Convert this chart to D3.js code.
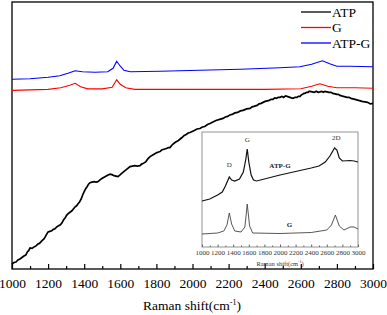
<!DOCTYPE html>
<html>
<head>
<meta charset="utf-8">
<script src="https://cdn.jsdelivr.net/npm/d3@7"></script>
<style>
  body { margin: 0; background: #fff; }
  svg { display: block; font-family: "Liberation Serif", "Times New Roman", serif; }
</style>
</head>
<body>
<div id="grafico"></div>
<script>
// Main spectra (wavenumber, intensity in a.u.)
const seriesNames = ["ATP", "G", "ATP-G"];
const seriesColors = ["#000000", "#ff0000", "#0000ff"];

const atp = [
  [1000, 5], [1011, 6.5], [1022, 7], [1033, 9], [1044, 10], [1055, 11.5], [1066, 13], [1077, 14], [1085, 17],
  [1093, 18.5], [1100, 21], [1111, 20.5], [1122, 22], [1133, 23], [1144, 25], [1152, 25.5], [1160, 27],
  [1168, 28.5], [1177, 30], [1184, 32], [1190, 34], [1200, 37], [1210, 37.5], [1220, 38], [1229, 39.5],
  [1238, 40], [1248, 42], [1258, 43], [1268, 44], [1277, 46], [1286, 49], [1295, 51], [1302, 53.5],
  [1310, 55], [1321, 56.5], [1332, 58], [1341, 60], [1350, 62], [1358, 63], [1366, 65], [1375, 67],
  [1384, 70], [1392, 74], [1400, 77], [1408, 80], [1416, 82], [1424, 84.5], [1432, 86], [1444, 86.5],
  [1455, 87], [1466, 86.5], [1476, 87], [1486, 88.5], [1496, 90], [1505, 91], [1515, 92], [1530, 93.5],
  [1543, 94.5], [1554, 94], [1565, 93], [1576, 92.5], [1587, 92], [1597, 93.5], [1606, 95], [1616, 96.5],
  [1626, 98], [1640, 100], [1654, 102], [1667, 102.5], [1680, 103], [1695, 102.5], [1709, 103], [1718, 104.5],
  [1726, 105], [1734, 106], [1742, 107], [1754, 110], [1765, 112], [1784, 114], [1803, 116], [1812, 116.5],
  [1820, 117], [1829, 118.5], [1837, 119], [1846, 119.5], [1856, 120], [1866, 121], [1875, 121], [1889, 124],
  [1903, 126], [1912, 127], [1922, 128], [1932, 129.5], [1942, 131], [1954, 133], [1965, 134], [1976, 135.5],
  [1986, 136], [1998, 137], [2010, 138], [2025, 139.5], [2041, 140], [2055, 141.5], [2068, 142], [2083, 144],
  [2097, 145], [2113, 146.5], [2130, 148], [2150, 149], [2169, 150], [2182, 151.5], [2195, 152], [2207, 153.5],
  [2219, 154], [2235, 155.5], [2250, 156], [2265, 157.5], [2280, 158], [2300, 159.5], [2319, 160], [2330, 161.5],
  [2340, 162], [2349, 162.5], [2358, 163], [2369, 164.5], [2380, 165], [2391, 166], [2402, 167], [2414, 167.5],
  [2425, 168], [2436, 169], [2446, 169], [2455, 170.5], [2465, 170], [2475, 171], [2485, 171], [2495, 172],
  [2505, 171], [2515, 172.5], [2524, 172], [2532, 171.5], [2540, 171], [2548, 170.5], [2557, 170], [2568, 171],
  [2578, 171], [2587, 172], [2596, 172], [2603, 173.5], [2610, 174], [2617, 175], [2623, 175], [2632, 176],
  [2640, 176], [2646, 177], [2651, 177], [2663, 176.5], [2675, 176], [2686, 177], [2696, 176], [2706, 176.5],
  [2715, 177], [2725, 176], [2734, 177], [2745, 176.5], [2756, 176], [2767, 176], [2778, 175], [2789, 174.5],
  [2800, 174], [2808, 174], [2817, 173], [2826, 172.5], [2836, 172], [2846, 171.5], [2856, 171], [2867, 171],
  [2878, 170], [2889, 169.5], [2900, 169], [2910, 168.5], [2920, 168], [2930, 167.5], [2939, 167], [2955, 166.5],
  [2970, 166], [2985, 164.5], [3000, 165]
];

const grafeno = [
  [1000, 178], [1100, 178.5], [1200, 179], [1270, 180.5], [1320, 183], [1350, 185], [1380, 181.5],
  [1420, 179.5], [1500, 179.5], [1555, 181], [1580, 188.5], [1600, 184], [1630, 180.5], [1680, 179],
  [2000, 179], [2400, 179], [2600, 179.5], [2660, 182], [2705, 184.5], [2750, 182], [2800, 180.5],
  [2900, 180.5], [3000, 180]
];

const atpG = [
  [1000, 189], [1100, 189.5], [1200, 191], [1265, 192.5], [1310, 195], [1350, 197.5], [1390, 196.5],
  [1460, 196], [1530, 196.5], [1560, 200], [1580, 207], [1600, 202], [1620, 198], [1655, 196.5],
  [1820, 197], [2040, 198], [2265, 199], [2485, 200.5], [2595, 201.5], [2660, 204], [2720, 207.5],
  [2760, 204.5], [2800, 202], [2870, 202], [3000, 201.5]
];

// Inset spectra
const insetAtpG = [
  [1000, 46], [1100, 48], [1200, 52], [1260, 55], [1300, 61], [1350, 70], [1380, 67], [1420, 66],
  [1480, 68], [1530, 75], [1560, 87], [1580, 98], [1600, 85], [1630, 72], [1660, 67], [1700, 66],
  [1800, 68], [2000, 72], [2200, 75.5], [2400, 79], [2500, 81], [2580, 85], [2640, 91], [2700, 99],
  [2730, 97], [2760, 89], [2800, 86], [2900, 86.5], [2950, 86], [3000, 85]
];

const insetG = [
  [1000, 13], [1200, 14], [1280, 16], [1320, 22], [1350, 34], [1380, 23], [1420, 16], [1500, 15],
  [1550, 20], [1580, 43], [1610, 21], [1650, 14], [2000, 13.5], [2400, 14.5], [2600, 17], [2660, 22],
  [2710, 32], [2760, 21], [2820, 17], [2900, 20], [2950, 20], [3000, 18]
];

const xTicks = [1000, 1200, 1400, 1600, 1800, 2000, 2200, 2400, 2600, 2800, 3000];
const insetLabels = [["D", 1350, 80], ["G", 1580, 105], ["2D", 2720, 107]];

const largura = 387;
const altura = 315;
const margem = { top: 2, right: 14, bottom: 46, left: 12 };

const svg = d3.select("#grafico").append("svg")
  .attr("width", largura)
  .attr("height", altura);

const escalaX = d3.scaleLinear().domain([1000, 3000]).range([margem.left, largura - margem.right]);
const escalaY = d3.scaleLinear().domain([0, 266]).range([altura - margem.bottom, margem.top]);

// Eixo inferior com ticks para dentro
const eixoX = svg.append("g")
  .attr("transform", `translate(0,${altura - margem.bottom})`)
  .call(d3.axisBottom(escalaX).tickValues(xTicks).tickSize(-5).tickPadding(9).tickFormat(d3.format("d")));
eixoX.select(".domain").remove();
eixoX.selectAll("text").style("font-size", "13.5px").style("font-family", "Liberation Serif");
eixoX.selectAll("line").attr("stroke-width", 1.2);

svg.append("g")
  .attr("transform", `translate(0,${altura - margem.bottom})`)
  .call(d3.axisBottom(escalaX).tickValues(d3.range(1100, 3000, 200)).tickSize(-3).tickFormat(""))
  .call(g => g.select(".domain").remove())
  .selectAll("line").attr("stroke-width", 1.2);

// Moldura
svg.append("rect")
  .attr("x", margem.left)
  .attr("y", margem.top)
  .attr("width", largura - margem.left - margem.right)
  .attr("height", altura - margem.top - margem.bottom)
  .attr("fill", "none")
  .attr("stroke", "#000")
  .attr("stroke-width", 1.3);

const linha = d3.line().x(d => escalaX(d[0])).y(d => escalaY(d[1]));

[atp, grafeno, atpG].forEach((serie, i) => {
  svg.append("path")
    .datum(serie)
    .attr("fill", "none")
    .attr("stroke", seriesColors[i])
    .attr("stroke-width", i === 0 ? 1.7 : 1.1)
    .attr("d", linha);
});

// Legenda
const legenda = svg.append("g");
seriesNames.forEach((nome, i) => {
  const y = 12 + i * 15.5;
  legenda.append("line")
    .attr("x1", 301).attr("x2", 331)
    .attr("y1", y).attr("y2", y)
    .attr("stroke", seriesColors[i])
    .attr("stroke-width", 1.3);
  legenda.append("text")
    .attr("x", 332)
    .attr("y", y + 4.5)
    .style("font-size", "13.5px")
    .text(nome);
});

// Título do eixo X
const titulo = svg.append("text")
  .attr("x", 192)
  .attr("y", 310)
  .attr("text-anchor", "middle")
  .style("font-size", "13.5px");
titulo.append("tspan").text("Raman shift(cm");
titulo.append("tspan").attr("dy", -5).style("font-size", "8px").text("-1");
titulo.append("tspan").attr("dy", 5).text(")");

// Inset
const ins = { x0: 202, x1: 358, y0: 132, y1: 247 };
const insX = d3.scaleLinear().domain([1000, 3000]).range([ins.x0, ins.x1]);
const insY = d3.scaleLinear().domain([0, 115]).range([ins.y1, ins.y0]);

const inset = svg.append("g");
inset.append("rect")
  .attr("x", ins.x0).attr("y", ins.y0)
  .attr("width", ins.x1 - ins.x0).attr("height", ins.y1 - ins.y0)
  .attr("fill", "#fff")
  .attr("stroke", "#888")
  .attr("stroke-width", 0.9);

const eixoIns = inset.append("g")
  .attr("transform", `translate(0,${ins.y1})`)
  .call(d3.axisBottom(insX).tickValues(xTicks).tickSize(-2.5).tickPadding(3).tickFormat(d3.format("d")));
eixoIns.select(".domain").remove();
eixoIns.selectAll("line").attr("stroke", "#666");
eixoIns.selectAll("text").style("font-size", "7px").style("font-family", "Liberation Serif").attr("fill", "#333");

inset.append("g")
  .attr("transform", `translate(0,${ins.y1})`)
  .call(d3.axisBottom(insX).tickValues(d3.range(1100, 3000, 200)).tickSize(-1.5).tickFormat(""))
  .call(g => g.select(".domain").remove())
  .selectAll("line").attr("stroke", "#666");

const linhaIns = d3.line().x(d => insX(d[0])).y(d => insY(d[1]));
[insetAtpG, insetG].forEach((serie, i) => {
  inset.append("path")
    .datum(serie)
    .attr("fill", "none")
    .attr("stroke", i === 0 ? "#111" : "#444")
    .attr("stroke-width", i === 0 ? 1.2 : 0.9)
    .attr("d", linhaIns);
});

insetLabels.forEach(([t, w, v]) => {
  inset.append("text")
    .attr("x", insX(w)).attr("y", insY(v))
    .attr("text-anchor", "middle")
    .style("font-size", "7px")
    .attr("fill", "#333")
    .text(t);
});

inset.append("text")
  .attr("x", insX(2000)).attr("y", insY(79))
  .attr("text-anchor", "middle")
  .style("font-size", "7px").style("font-weight", "bold")
  .attr("fill", "#222")
  .text("ATP-G");

inset.append("text")
  .attr("x", insX(2120)).attr("y", insY(20))
  .attr("text-anchor", "middle")
  .style("font-size", "7px").style("font-weight", "bold")
  .attr("fill", "#222")
  .text("G");

const tituloIns = inset.append("text")
  .attr("x", (ins.x0 + ins.x1) / 2)
  .attr("y", 265.5)
  .attr("text-anchor", "middle")
  .style("font-size", "6.5px")
  .attr("fill", "#333");
tituloIns.append("tspan").text("Raman shift(cm");
tituloIns.append("tspan").attr("dy", -3).style("font-size", "4px").text("-1");
tituloIns.append("tspan").attr("dy", 3).text(")");
</script>
</body>
</html>
